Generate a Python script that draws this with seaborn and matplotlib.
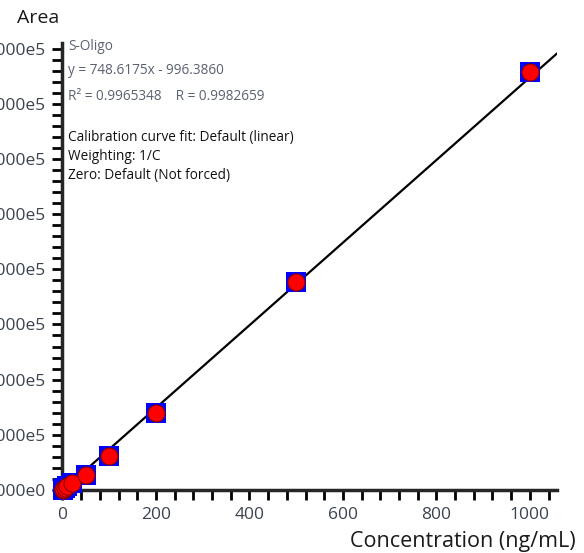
import matplotlib
matplotlib.use("Agg")
import matplotlib.pyplot as plt
import seaborn as sns
import numpy as np
import pandas as pd
from matplotlib.ticker import MultipleLocator, FuncFormatter

# Calibration data
concentration = [1, 2, 5, 10, 20, 50, 100, 200, 500, 1000]
area = [500, 1200, 3000, 6500, 12000, 27000, 62000, 140000, 377000, 757000]
slope = 748.6175
intercept = -996.3860

info_lines = ["S-Oligo", "y = 748.6175x - 996.3860", "R\u00b2 = 0.9965348    R = 0.9982659"]
fit_lines = ["Calibration curve fit: Default (linear)", "Weighting: 1/C", "Zero: Default (Not forced)"]

df = pd.DataFrame({"Concentration": concentration, "Area": area})

sns.set_style("ticks")
plt.rcParams["font.family"] = ["Open Sans", "DejaVu Sans"]

fig = plt.figure(figsize=(5.84, 5.53), dpi=100)
ax = fig.add_axes([54 / 584, 1 - 490 / 553, (557 - 54) / 584, (490 - 43) / 553])

xmin, xmax = -18, 1058
ax.set_xlim(xmin, xmax)
ax.set_ylim(0, 810000)

# Fit line
xs = np.array([0, xmax])
ax.plot(xs, slope * xs + intercept, color="black", lw=1.6, zorder=3)

# Blue squares behind red circles
sns.scatterplot(data=df, x="Concentration", y="Area", ax=ax, marker="s", s=200,
                color="#0000ff", edgecolor="#0000ff", linewidth=0, zorder=4, clip_on=False)
sns.scatterplot(data=df, x="Concentration", y="Area", ax=ax, marker="o", s=150,
                color="#ff0000", edgecolor="#8b0000", linewidth=0.8, zorder=5, clip_on=False)

# Spines
for s in ["top", "right"]:
    ax.spines[s].set_visible(False)
ax.spines["left"].set_position(("data", 0))
ax.spines["left"].set_linewidth(2.5)
ax.spines["bottom"].set_linewidth(2.5)

ax.xaxis.set_major_locator(MultipleLocator(200))
ax.xaxis.set_minor_locator(MultipleLocator(40))
ax.yaxis.set_major_locator(MultipleLocator(100000))
ax.yaxis.set_minor_locator(MultipleLocator(20000))
ax.yaxis.set_major_formatter(FuncFormatter(
    lambda v, p: "0.000e0" if v == 0 else f"{v / 1e5:.3f}e5"))
ax.tick_params(which="both", direction="out", width=2, length=7, color="black",
               labelsize=12.5, labelcolor="#3b4350", pad=5)
ax.set_xlabel("")
ax.set_ylabel("")

fig.text(17 / 584, 1 - 18 / 553, "Area", fontsize=14, va="center", ha="left", color="#1a1a1a")
fig.text(576 / 584, 1 - 541 / 553, "Concentration (ng/mL)", fontsize=15.5, va="center",
         ha="right", color="#1a1a1a")

for i, t in enumerate(info_lines):
    fig.text(68 / 584, 1 - (46 + 25 * i) / 553, t, fontsize=9.8,
             color="#5a6170", va="center", ha="left")
for i, t in enumerate(fit_lines):
    fig.text(68 / 584, 1 - (137 + 19.5 * i) / 553, t, fontsize=9.8,
             color="#111111", va="center", ha="left")

fig.savefig("out.png", dpi=100)
